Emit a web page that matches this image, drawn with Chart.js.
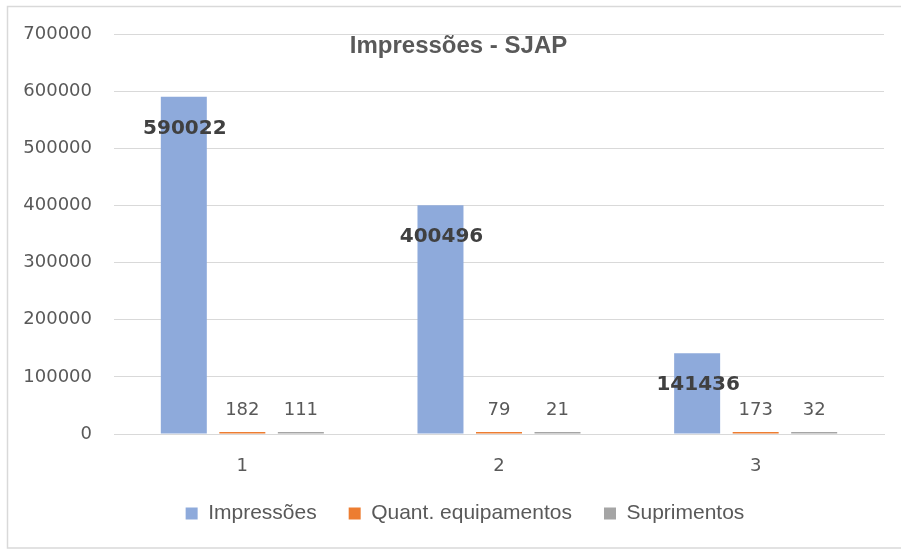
<!DOCTYPE html>
<html>
<head>
<meta charset="utf-8">
<script src="https://cdn.jsdelivr.net/npm/chart.js@4.4.1/dist/chart.umd.min.js"></script>
<style>
  html, body { margin: 0; padding: 0; background: #fff; }
  #wrap { width: 901px; height: 549px; }
</style>
</head>
<body>
<div id="wrap"><canvas id="chart" width="901" height="549"></canvas></div>
<script>
// Data
const categories = ['1', '2', '3'];
const impressoes = [590022, 400496, 141436];
const equipamentos = [182, 79, 173];
const suprimentos = [111, 21, 32];
const seriesNames = ['Impressões', 'Quant. equipamentos', 'Suprimentos'];
const chartTitle = 'Impressões - SJAP';

const numFont = 'DejaVu Sans';
const textFont = 'Liberation Sans';
const textColor = '#595959';

// white background + outer frame like the Excel chart area
const framePlugin = {
    id: 'frame',
    beforeDraw(chart) {
        const ctx = chart.ctx;
        ctx.save();
        ctx.fillStyle = '#fff';
        ctx.fillRect(0, 0, chart.width, chart.height);
        ctx.strokeStyle = '#d9d9d9';
        ctx.lineWidth = 1.5;
        ctx.strokeRect(7.5, 6.5, chart.width, chart.height - 7.5);
        ctx.restore();
    },
    // Excel centres the legend a bit right of the canvas centre
    afterLayout(chart) {
        if (chart.legend) {
            chart.legend.left += 18;
            chart.legend.right += 18;
        }
    }
};

// title sits inside the plot, just under the top gridline
const titlePlugin = {
    id: 'innerTitle',
    afterDraw(chart) {
        const ctx = chart.ctx;
        ctx.save();
        ctx.font = 'bold 24px "' + textFont + '"';
        ctx.fillStyle = textColor;
        ctx.textAlign = 'center';
        ctx.textBaseline = 'middle';
        ctx.fillText(chartTitle, chart.width / 2 + 8, chart.chartArea.top + 12);
        ctx.restore();
    }
};

// value labels: big bold ones inside the top of the tall bars, small ones above
const labelPlugin = {
    id: 'valueLabels',
    afterDatasetsDraw(chart) {
        const ctx = chart.ctx;
        ctx.save();
        ctx.textAlign = 'center';
        ctx.textBaseline = 'middle';
        chart.data.datasets.forEach((ds, i) => {
            const meta = chart.getDatasetMeta(i);
            meta.data.forEach((bar, j) => {
                const val = ds.data[j];
                if (i === 0) {
                    ctx.font = 'bold 20px "' + numFont + '"';
                    ctx.fillStyle = '#404040';
                    ctx.fillText(String(val), bar.x + 1, bar.y + 32);
                } else {
                    ctx.font = '18px "' + numFont + '"';
                    ctx.fillStyle = textColor;
                    ctx.fillText(String(val), bar.x, bar.y - 22);
                }
            });
        });
        ctx.restore();
    }
};

new Chart(document.getElementById('chart'), {
    type: 'bar',
    data: {
        labels: categories,
        datasets: [
            { label: seriesNames[0], data: impressoes, backgroundColor: '#8eaadb' },
            { label: seriesNames[1], data: equipamentos, backgroundColor: '#ed7d31' },
            { label: seriesNames[2], data: suprimentos, backgroundColor: '#a5a5a5' }
        ]
    },
    options: {
        responsive: false,
        animation: false,
        layout: { padding: { left: 10, right: 17, top: 34, bottom: 15 } },
        datasets: {
            bar: { categoryPercentage: 0.684, barPercentage: 0.786, minBarLength: 2 }
        },
        scales: {
            x: {
                grid: { display: false, drawTicks: false },
                border: { display: true, color: '#d9d9d9', width: 1 },
                ticks: { color: textColor, font: { family: numFont, size: 18 }, padding: 22 },
                afterFit(scale) { scale.height = 37; }
            },
            y: {
                min: 0,
                max: 700000,
                grid: { color: '#d9d9d9', drawTicks: false },
                border: { display: false },
                ticks: {
                    stepSize: 100000,
                    color: textColor,
                    font: { family: numFont, size: 18 },
                    padding: 22,
                    callback: (v) => String(v)
                },
                afterFit(scale) { scale.width = 104; }
            }
        },
        plugins: {
            title: { display: false },
            tooltip: { enabled: false },
            legend: {
                position: 'bottom',
                labels: {
                    boxWidth: 12,
                    boxHeight: 12,
                    padding: 32,
                    color: textColor,
                    font: { family: textFont, size: 21 }
                }
            }
        }
    },
    plugins: [framePlugin, titlePlugin, labelPlugin]
});
</script>
</body>
</html>
